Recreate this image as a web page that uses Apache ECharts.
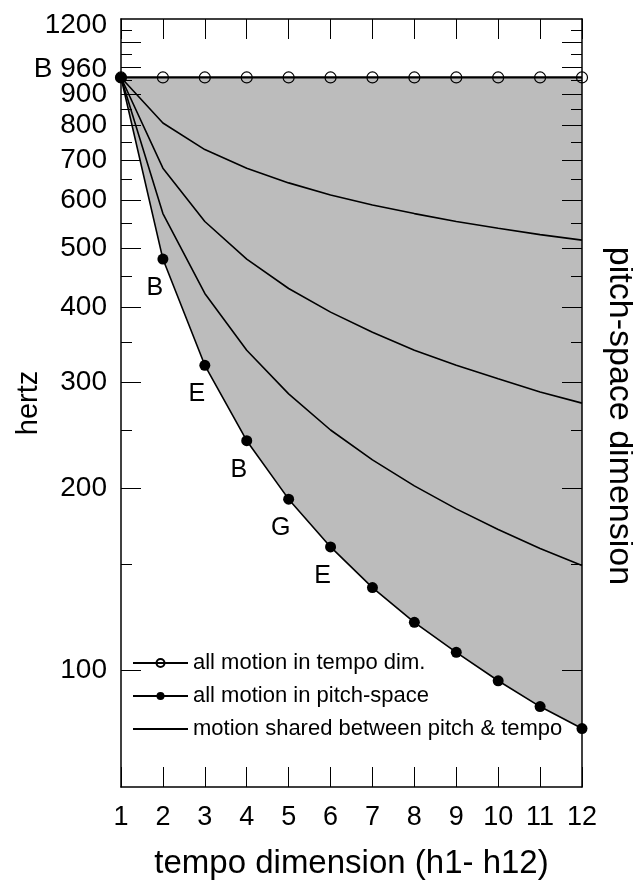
<!DOCTYPE html>
<html>
<head>
<meta charset="utf-8">
<title>hertz vs tempo dimension</title>
<script src="https://cdn.jsdelivr.net/npm/echarts@6/dist/echarts.min.js"></script>
<style>
  html, body { margin: 0; padding: 0; background: #fff; }
  #main { width: 633px; height: 882px; }
</style>
</head>
<body>
<div id="main"></div>
<script type="text/javascript">
// harmonics h1 .. h12 on the tempo dimension
var harmonics = [1, 2, 3, 4, 5, 6, 7, 8, 9, 10, 11, 12];

// all motion in the tempo dimension (pitch stays put)
var tempoOnly = [960, 960, 960, 960, 960, 960, 960, 960, 960, 960, 960, 960];
// all motion in pitch-space
var pitchOnly = [960, 480, 320, 240, 192, 160, 137, 120, 107, 96, 87, 80];
// motion shared between pitch & tempo (three curves)
var sharedHigh = [960, 807, 729, 679, 642, 613, 590, 571, 554, 540, 527, 516];
var sharedMid = [960, 679, 554, 480, 429, 392, 363, 339, 320, 304, 289, 277];
var sharedLow = [960, 571, 421, 339, 287, 250, 223, 202, 185, 171, 159, 149];

// note names written under the pitch-space points
var pitchNotes = ['', 'B', 'E', 'B', 'G', 'E', '', '', '', '', '', ''];

// y axis ticks / labels (hertz)
var yLabelValues = [100, 200, 300, 400, 500, 600, 700, 800, 900, 960, 1200];
var yMajorTicks = [100, 200, 300, 400, 500, 600, 700, 800, 900, 1000, 1100];
var yMinorTicks = [150, 250, 350, 450, 550, 650, 750, 850, 950, 1050, 1150];

var FONT = 'Liberation Sans, Arial, Helvetica, sans-serif';
var GRAY = '#bcbcbc';

function pairs(arr) {
    return harmonics.map(function (h, i) { return [h, arr[i]]; });
}

var myChart = echarts.init(document.getElementById('main'));

function yAxisBase(pos, tickLen, ticks) {
    return {
        type: 'log',
        position: pos,
        min: 64,
        max: 1200,
        logBase: 10,
        z: 5,
        splitLine: { show: false },
        axisLine: { show: true, lineStyle: { color: '#000', width: 1.5 } },
        axisTick: { show: true, inside: true, length: tickLen, customValues: ticks,
                    lineStyle: { color: '#000', width: 1 } },
        axisLabel: { show: false }
    };
}

var yLeft = yAxisBase('left', 20, yMajorTicks);
yLeft.axisLabel = {
    show: true,
    customValues: yLabelValues,
    margin: 14,
    color: '#000',
    fontSize: 28,
    fontFamily: FONT,
    formatter: function (v) {
        var n = Math.round(v);
        if (n === 960) return '{up|B 960}';
        if (n === 1200) return '{down|1200}';
        return String(n);
    },
    rich: {
        up: { fontSize: 28, fontFamily: FONT, color: '#000', padding: [0, 0, 16, 0] },
        down: { fontSize: 28, fontFamily: FONT, color: '#000', padding: [12, 0, 0, 0] }
    }
};
yLeft.name = 'hertz';
yLeft.nameLocation = 'middle';
yLeft.nameMoveOverlap = false;
yLeft.nameGap = 78;
yLeft.nameTextStyle = { fontSize: 29, fontFamily: FONT, color: '#000' };

var yLeftMinor = yAxisBase('left', 11, yMinorTicks);
yLeftMinor.axisLine = { show: false };

var yRight = yAxisBase('right', 20, yMajorTicks);
yRight.name = 'pitch-space dimension';
yRight.nameLocation = 'middle';
yRight.nameRotate = -90;
yRight.nameGap = 20;
yRight.nameTextStyle = { fontSize: 34, fontFamily: FONT, color: '#000', padding: [0, 0, 0, 26] };

var yRightMinor = yAxisBase('right', 11, yMinorTicks);
yRightMinor.axisLine = { show: false };

function xAxisBase(pos) {
    return {
        type: 'value',
        position: pos,
        min: 1,
        max: 12,
        interval: 1,
        z: 5,
        splitLine: { show: false },
        axisLine: { show: true, onZero: false, lineStyle: { color: '#000', width: 1.5 } },
        axisTick: { show: true, inside: true, length: 20, lineStyle: { color: '#000', width: 1 } },
        axisLabel: { show: false }
    };
}

var xBottom = xAxisBase('bottom');
xBottom.axisLabel = { show: true, margin: 17, color: '#000', fontSize: 27, fontFamily: FONT };
xBottom.name = 'tempo dimension (h1- h12)';
xBottom.nameLocation = 'middle';
xBottom.nameGap = 60;
xBottom.nameTextStyle = { fontSize: 33, fontFamily: FONT, color: '#000' };

var xTop = xAxisBase('top');

var lineOpts = { color: '#000', width: 1.6 };

var sharedName = 'motion shared between pitch & tempo';

option = {
    animation: false,
    backgroundColor: '#fff',
    textStyle: { fontFamily: FONT },
    grid: { left: 121, right: 51, top: 19, bottom: 95, containLabel: false, outerBoundsMode: 'none' },
    legend: {
        orient: 'vertical',
        left: 127,
        top: 647,
        selectedMode: false,
        itemWidth: 55,
        itemHeight: 10,
        itemGap: 11,
        textStyle: { fontSize: 22, fontFamily: FONT, color: '#000' },
        data: ['all motion in tempo dim.', 'all motion in pitch-space', sharedName]
    },
    xAxis: [xBottom, xTop],
    yAxis: [yLeft, yLeftMinor, yRight, yRightMinor],
    series: [
        {
            // gray region under the tempo-only line
            name: 'band', type: 'line', data: pairs(tempoOnly),
            symbol: 'none', silent: true, lineStyle: { opacity: 0 },
            areaStyle: { color: GRAY, opacity: 1, origin: 'start' }
        },
        {
            // white out everything below the pitch-space curve
            name: 'band cut', type: 'line', data: pairs(pitchOnly),
            symbol: 'none', silent: true, lineStyle: { opacity: 0 },
            areaStyle: { color: '#fff', opacity: 1, origin: 'start' }
        },
        {
            name: sharedName, type: 'line', data: pairs(sharedHigh), symbol: 'circle',
            showSymbol: false, silent: true, lineStyle: lineOpts, itemStyle: { color: '#000', opacity: 0 }
        },
        {
            name: sharedName, type: 'line', data: pairs(sharedMid), symbol: 'circle',
            showSymbol: false, silent: true, lineStyle: lineOpts, itemStyle: { color: '#000', opacity: 0 }
        },
        {
            name: sharedName, type: 'line', data: pairs(sharedLow), symbol: 'circle',
            showSymbol: false, silent: true, lineStyle: lineOpts, itemStyle: { color: '#000', opacity: 0 }
        },
        {
            name: 'all motion in tempo dim.', type: 'line', data: pairs(tempoOnly),
            symbol: 'circle', symbolSize: 11, clip: false, silent: true,
            lineStyle: { color: '#000', width: 2.2 },
            itemStyle: { color: 'rgba(0,0,0,0)', borderColor: '#000', borderWidth: 1.2 }
        },
        {
            name: 'all motion in pitch-space', type: 'line', data: pairs(pitchOnly).map(function (p, i) {
                return { value: p, label: { show: pitchNotes[i] !== '', formatter: pitchNotes[i] } };
            }),
            symbol: 'circle', symbolSize: 11, clip: false, silent: true, z: 4,
            lineStyle: { color: '#000', width: 1.6 },
            itemStyle: { color: '#000' },
            label: { position: 'bottom', offset: [-8, 6], fontSize: 25, fontFamily: FONT, color: '#000' }
        }
    ]
};

myChart.setOption(option);
</script>
</body>
</html>
